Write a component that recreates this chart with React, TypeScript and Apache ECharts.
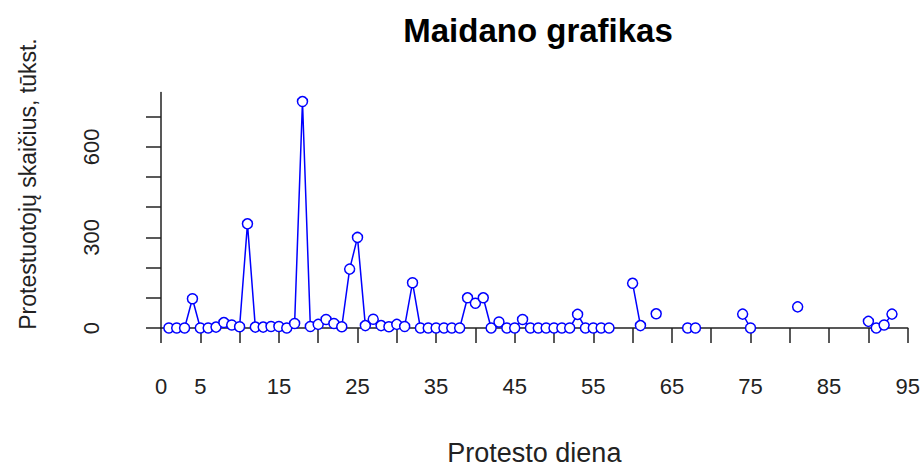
import React, { useEffect, useRef } from "react";
import * as echarts from "echarts";

const titleText = "Maidano grafikas";
const xName = "Protesto diena";
const yName = "Protestuotojų skaičius, tūkst.";

const days: number[] = Array.from({ length: 93 }, (_, i) => i + 1);
const protesters: (number | null)[] = [
  0, 0, 0, 97, 0, 0, 3, 18, 10, 4,
  345, 3, 3, 5, 5, 0, 15, 750, 5, 12,
  28, 15, 4, 195, 300, 8, 29, 8, 4, 12,
  5, 150, 0, 0, 0, 0, 0, 0, 100, 82,
  100, 0, 20, 0, 0, 28, 0, 0, 0, 0,
  0, 0, 45, 0, 0, 0, 0, null, null, 148,
  8, null, 47, null, null, null, 0, 0, null, null,
  null, null, null, 46, 0, null, null, null, null, null,
  70, null, null, null, null, null, null, null, null, 22,
  0, 10, 46,
];
const xTicks: number[] = [0, 5, 10, 15, 20, 25, 30, 35, 40, 45, 50, 55, 60, 65, 70, 75, 80, 85, 90, 95];
const xLabels: number[] = [0, 5, 15, 25, 35, 45, 55, 65, 75, 85, 95];
const yTicks: number[] = [0, 100, 200, 300, 400, 500, 600, 700];
const yLabels: number[] = [0, 300, 600];

const FONT = "Liberation Sans, Arial, sans-serif";

export default function App() {
  const ref = useRef<HTMLDivElement>(null);
  useEffect(() => {
    if (!ref.current) return;
    const chart = echarts.init(ref.current, null, { renderer: "svg" });
    const data = days.map((d, i) => [d, protesters[i]]);
    chart.setOption({
      animation: false,
      backgroundColor: "#ffffff",
      title: {
        text: titleText,
        left: 533,
        top: 9,
        textAlign: "center",
        textStyle: { fontFamily: FONT, fontWeight: "bold", fontSize: 33, color: "#000" },
      },
      graphic: [
        {
          type: "text",
          x: 28,
          y: 184,
          rotation: Math.PI / 2,
          style: {
            text: yName,
            fontFamily: FONT,
            fontSize: 23,
            fill: "#222",
            textAlign: "center",
            textVerticalAlign: "middle",
          },
        },
      ],
      grid: { left: 161, top: 92.5, width: 746.7, height: 235.5 },
      xAxis: {
        type: "value",
        min: 0,
        max: 95,
        interval: 5,
        offset: 11,
        splitLine: { show: false },
        axisLine: { show: true, lineStyle: { color: "#222", width: 1.5 } },
        axisTick: { show: true, length: 15, lineStyle: { color: "#222", width: 1.5 }, customValues: xTicks },
        axisLabel: {
          customValues: xLabels,
          margin: 36,
          fontFamily: FONT,
          fontSize: 22,
          color: "#222",
        },
        name: xName,
        nameLocation: "middle",
        nameGap: 100,
        nameTextStyle: { fontFamily: FONT, fontSize: 27, color: "#222" },
      },
      yAxis: {
        type: "value",
        min: 0,
        max: 780,
        offset: 21,
        splitLine: { show: false },
        axisLine: { show: true, lineStyle: { color: "#222", width: 1.5 } },
        axisTick: { show: true, length: 15, lineStyle: { color: "#222", width: 1.5 }, customValues: yTicks },
        axisLabel: {
          customValues: yLabels,
          rotate: 90,
          margin: 38,
          fontFamily: FONT,
          fontSize: 22,
          color: "#222",
        },
      },
      series: [
        {
          type: "line",
          data,
          connectNulls: false,
          symbol: "circle",
          symbolSize: 10,
          showAllSymbol: true,
          clip: false,
          lineStyle: { color: "#0000ff", width: 1.5 },
          itemStyle: { color: "#ffffff", borderColor: "#0000ff", borderWidth: 1.5 },
        },
      ],
    });
    return () => chart.dispose();
  }, []);
  return (
    <div
      ref={ref}
      style={{ position: "absolute", left: 0, top: 0, width: 924, height: 471 }}
    />
  );
}
